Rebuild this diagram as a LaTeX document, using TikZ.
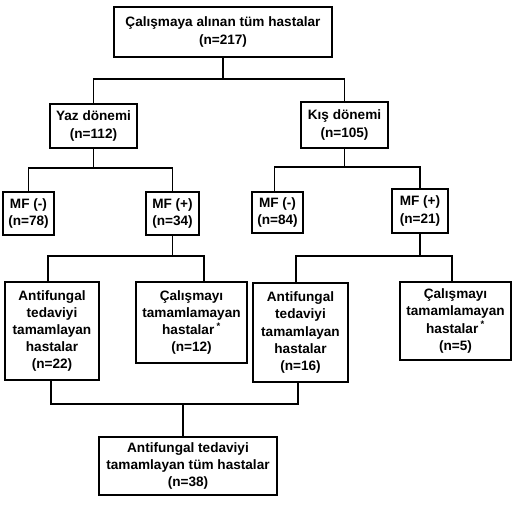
\documentclass[tikz,border=0pt]{standalone}
\usepackage{fontspec}
\setmainfont{Liberation Sans}
\begin{document}
\begin{tikzpicture}[x=1pt,y=-1pt,
  box/.style={draw=black, line width=1.9pt, fill=white, align=center, inner sep=1pt,
    font=\fontsize{13.6}{17.2}\selectfont\bfseries},
  conn/.style={draw=black, line width=1.4pt}]
\useasboundingbox (0,0) rectangle (516,505);
\node[box, minimum width=218pt, minimum height=50pt] (top) at (223,32) {Çalışmaya alınan tüm hastalar\\(n=217)};
\node[box, minimum width=87pt, minimum height=44pt] (yaz) at (93.5,126) {Yaz dönemi\\(n=112)};
\node[box, minimum width=87pt, minimum height=46pt] (kis) at (344.5,125) {Kış dönemi\\(n=105)};
\node[box, minimum width=51pt, minimum height=43pt] (mfla) at (28.5,213.5) {MF (-)\\(n=78)};
\node[box, minimum width=53pt, minimum height=43pt] (mfpa) at (172.5,213.5) {MF (+)\\(n=34)};
\node[box, minimum width=51pt, minimum height=41pt] (mflb) at (277.5,212.5) {MF (-)\\(n=84)};
\node[box, minimum width=56pt, minimum height=44pt] (mfpb) at (420,211) {MF (+)\\(n=21)};
\node[box, minimum width=94pt, minimum height=98pt] (afa) at (52,331) {Antifungal\\tedaviyi\\tamamlayan\\hastalar\\(n=22)};
\node[box, minimum width=111pt, minimum height=81pt] (cma) at (191.5,322.5) {Çalışmayı\\tamamlamayan\\hastalar\,\textsuperscript{*}\\(n=12)};
\node[box, minimum width=95pt, minimum height=99pt] (afb) at (300.5,332.5) {Antifungal\\tedaviyi\\tamamlayan\\hastalar\\(n=16)};
\node[box, minimum width=111pt, minimum height=78pt] (cmb) at (455.5,321) {Çalışmayı\\tamamlamayan\\hastalar\,\textsuperscript{*}\\(n=5)};
\node[box, minimum width=178pt, minimum height=58pt] (bot) at (188,466) {Antifungal tedaviyi\\tamamlayan tüm hastalar\\(n=38)};
\coordinate (j1) at (223,79);
\coordinate (j2) at (93.5,168);
\coordinate (j3) at (344.5,167);
\coordinate (j4) at (172.5,256);
\coordinate (j5) at (420,256);
\coordinate (j6) at (183,404);
% level 1
\draw[conn] (top.south) -- (j1);
\draw[conn] (yaz.north) -- (yaz.north |- j1) -- (kis.north |- j1) -- (kis.north);
% level 2
\draw[conn] (yaz.south) -- (j2);
\draw[conn] (mfla.north) -- (mfla.north |- j2) -- (mfpa.north |- j2) -- (mfpa.north);
\draw[conn] (kis.south) -- (j3);
\draw[conn] ([xshift=-3pt]mflb.north) -- ([xshift=-3pt]mflb.north |- j3) -- (mfpb.north |- j3) -- (mfpb.north);
% level 3
\draw[conn] (mfpa.south) -- (j4);
\draw[conn] ([xshift=-4pt]afa.north) -- ([xshift=-4pt]afa.north |- j4) -- ([xshift=12.5pt]cma.north |- j4) -- ([xshift=12.5pt]cma.north);
\draw[conn] (mfpb.south) -- (j5);
\draw[conn] ([xshift=-4.5pt]afb.north) -- ([xshift=-4.5pt]afb.north |- j5) -- ([xshift=-3.5pt]cmb.north |- j5) -- ([xshift=-3.5pt]cmb.north);
% bottom
\draw[conn] ([xshift=-1pt]afa.south) -- ([xshift=-1pt]afa.south |- j6) -- ([xshift=-2.5pt]afb.south |- j6) -- ([xshift=-2.5pt]afb.south);
\draw[conn] (j6) -- (j6 |- bot.north);
\end{tikzpicture}
\end{document}
